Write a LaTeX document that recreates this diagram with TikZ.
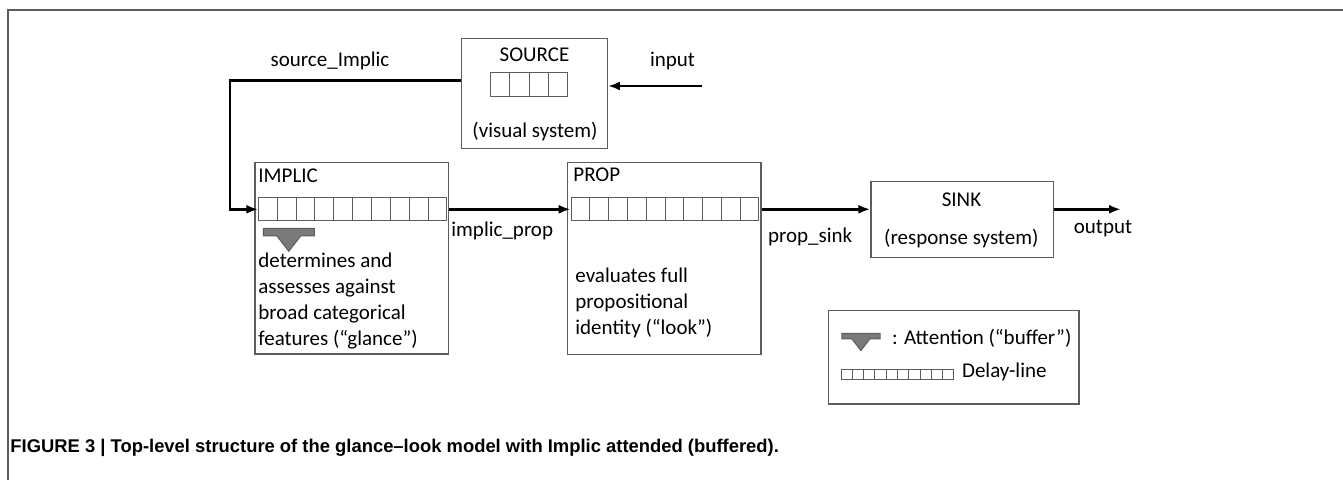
\documentclass[tikz,border=0pt]{standalone}
\usepackage{fontspec}
\setmainfont{Carlito}
\newfontfamily\capfont{Liberation Sans}
\usetikzlibrary{arrows.meta}
\usetikzlibrary{calc}
\definecolor{boxgray}{HTML}{5C5C5C}
\definecolor{attngray}{HTML}{7A7A7A}
\tikzset{
block/.style 2 args = {draw=boxgray, line width=0.6pt, minimum width=#1,
                       minimum height=#2, inner sep=0pt},
cells/.style 2 args = {draw=boxgray, line width=0.5pt, minimum width=#1,
                       minimum height=#2, inner sep=0pt},
divider/.style = {boxgray, line width=0.5pt},
lbl/.style = {inner sep=0pt, font=\fontsize{10.5}{13}\selectfont},
flow/.style = {line width=1.25pt, -{Latex[length=6pt,width=4.5pt]}},
attn/.pic = {\draw[boxgray, fill=attngray, line width=0.5pt]
             (-25.5,0) -- (25.5,0) -- (25.5,7.5) -- (12,7.5) -- (0,23)
             -- (-12,7.5) -- (-25.5,7.5) -- cycle;}
}

\begin{document}
\begin{tikzpicture}[x=0.5pt, y=-0.5pt]
    \useasboundingbox (0,0) rectangle (1343,480);
    \draw[boxgray, line width=1pt] (8,480) -- (8,10) -- (1343,10);

    % source
    \node[block={72.8pt}{55pt}] (source) at (534.5,93.2) {};
    \node[lbl] (sourcename) at (534.5,55) {SOURCE};
    \node[cells={38.3pt}{11.85pt}] (sourcedl) at (529,84.2) {};
    \node[lbl] (sourcetxt) at (535,131.7) {(visual system)};

    % implic
    \node[block={96.85pt}{95.85pt}] (implic) at (351.9,258.2) {};
    \node[lbl, anchor=west] (implicname) at (258,176) {IMPLIC};
    \node[cells={93.85pt}{11.65pt}, anchor=west] (implicdl) at (258.3,209.3) {};
    \pic at (288.8,228.3) {attn};
    \node[lbl, anchor=west, align=left] (implictxt) at (258,301.2)
        {determines and\\assesses against\\broad categorical\\features (“glance”)};

    % prop
    \node[block={96.65pt}{96pt}] (prop) at (664.4,258.3) {};
    \node[lbl, anchor=west] (propname) at (573,175) {PROP};
    \node[cells={93.8pt}{11.65pt}, anchor=west] (propdl) at (570.7,209.3) {};
    \node[lbl, anchor=west, align=left] (proptxt) at (575,303)
        {evaluates full\\propositional\\identity (“look”)};

    % sink
    \node[block={91.2pt}{37.8pt}] (sink) at (962.2,219.5) {};
    \node[lbl] (sinkname) at (961.5,199.3) {SINK};
    \node[lbl] (sinktxt) at (961.3,238.3) {(response system)};

    % legend
    \node[block={125.35pt}{46.65pt}] (legend) at (953.7,357.4) {};
    \pic[scale=0.75] at (860.9,333.3) {attn};
    \node[lbl, anchor=west] (attnkey) at (891.7,338.3) {: Attention (“buffer”)};
    \node[cells={56.3pt}{5pt}, anchor=west] (keydl) at (840.7,374.3) {};
    \node[lbl, anchor=west] (delaykey) at (961.7,371.7) {Delay-line};

    % cell dividers
    \foreach \dl/\n in {sourcedl/4, implicdl/10, propdl/10, keydl/10}
        \foreach \i in {1,...,\numexpr\n-1\relax}
            \draw[divider] ($(\dl.north west)!\i/\n!(\dl.north east)$)
                        -- ($(\dl.south west)!\i/\n!(\dl.south east)$);

    % connectors
    \coordinate (inp) at (701.7,86);
    \coordinate (turn) at (230,80.7);
    \coordinate (out) at (1121,209.3);
    \draw[flow] (inp) -- (inp -| source.east);
    \draw[flow] (source.west |- turn) -- (turn) |- (implicdl.west);
    \draw[flow] (implic.east |- implicdl) -- (propdl.west);
    \draw[flow] (prop.east |- propdl) -- (sink.west |- propdl);
    \draw[flow] (sink.east |- propdl) -- (out);

    \node[lbl] (inplbl) at (672.5,61) {input};
    \node[lbl] (srclbl) at (330,61) {source\_Implic};
    \node[lbl, anchor=west] (iplbl) at (451,231) {implic\_prop};
    \node[lbl, anchor=west] (pslbl) at (767.7,237) {prop\_sink};
    \node[lbl] (outlbl) at (1103,229) {output};

    \node[anchor=west, inner sep=0pt, font=\capfont\bfseries\fontsize{9.2}{11}\selectfont]
        (caption) at (10,448)
        {FIGURE 3 | Top-level structure of the glance–look model with Implic attended (buffered).};
\end{tikzpicture}
\end{document}
